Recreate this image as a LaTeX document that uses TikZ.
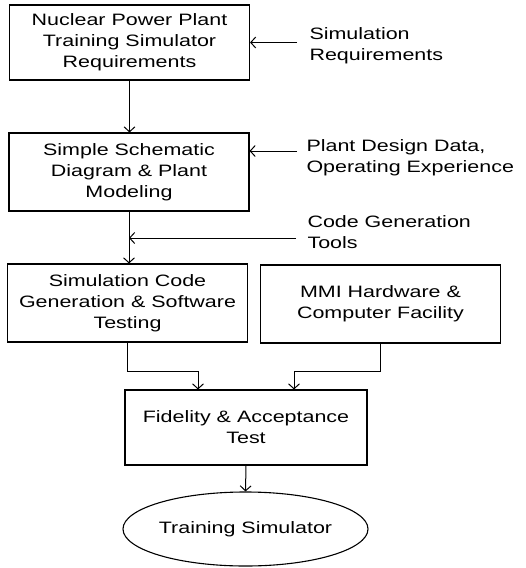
\documentclass[tikz,border=0pt]{standalone}
\usepackage{fontspec}
\setmainfont[FakeStretch=1.3]{Liberation Sans}
\usetikzlibrary{shapes.geometric, arrows.meta}

\tikzset{
  stage/.style={draw, line width=1.1pt, rectangle, minimum width=240pt,
    minimum height=78pt, align=center, inner sep=0pt},
  result/.style={draw, line width=1.1pt, ellipse, minimum width=243pt,
    minimum height=74pt, inner sep=0pt},
  inlabel/.style={anchor=west, align=left},
  flow/.style={-{Straight Barb[length=5pt, width=11pt]}, line width=1pt},
  every node/.style={font=\fontsize{16.5}{21}\selectfont}
}

\begin{document}
\begin{tikzpicture}[x=1pt, y=-1pt]
  \useasboundingbox (0,0) rectangle (526,568);
  %Etapes
  \node[stage, minimum height=75pt] (req) at (129.5,42.5) {Nuclear Power Plant\\Training Simulator\\Requirements};
  \node[stage] (model) at (129,172) {Simple Schematic\\Diagram \& Plant\\Modeling};
  \node[stage] (code) at (127.5,303) {Simulation Code\\Generation \& Software\\Testing};
  \node[stage] (mmi) at (380.5,304) {MMI Hardware \&\\Computer Facility};
  \node[stage, minimum width=242pt, minimum height=75pt] (fid) at (246,427.5) {Fidelity \& Acceptance\\Test};
  \node[result] (sim) at (245.5,529) {Training Simulator};
  %Entrees
  \node[inlabel] (simreq) at (306,46) {Simulation\\Requirements};
  \node[inlabel] (design) at (303,157.5) {Plant Design Data,\\Operating Experience};
  \node[inlabel] (tools) at (304,232) {Code Generation\\Tools};
  \coordinate (reqtail) at (297,42.5);
  \coordinate (designtail) at (297,151);
  \coordinate (toolstail) at (296,238);
  %Fleches
  \draw[flow] (req.south) -- (req.south |- model.north);
  \draw[flow] (model.south) -- (model.south |- code.north);
  \draw[flow] (reqtail) -- (req.east |- reqtail);
  \draw[flow] (designtail) -- (model.east |- designtail);
  \draw[flow] (toolstail) -- (toolstail -| model.south);
  \draw[flow] (code.south) -- ++(0,29) -| ([xshift=-48pt]fid.north);
  \draw[flow] (mmi.south) -- ++(0,28) -| ([xshift=48pt]fid.north);
  \draw[flow] (fid.south) -- (sim.north);
\end{tikzpicture}
\end{document}
